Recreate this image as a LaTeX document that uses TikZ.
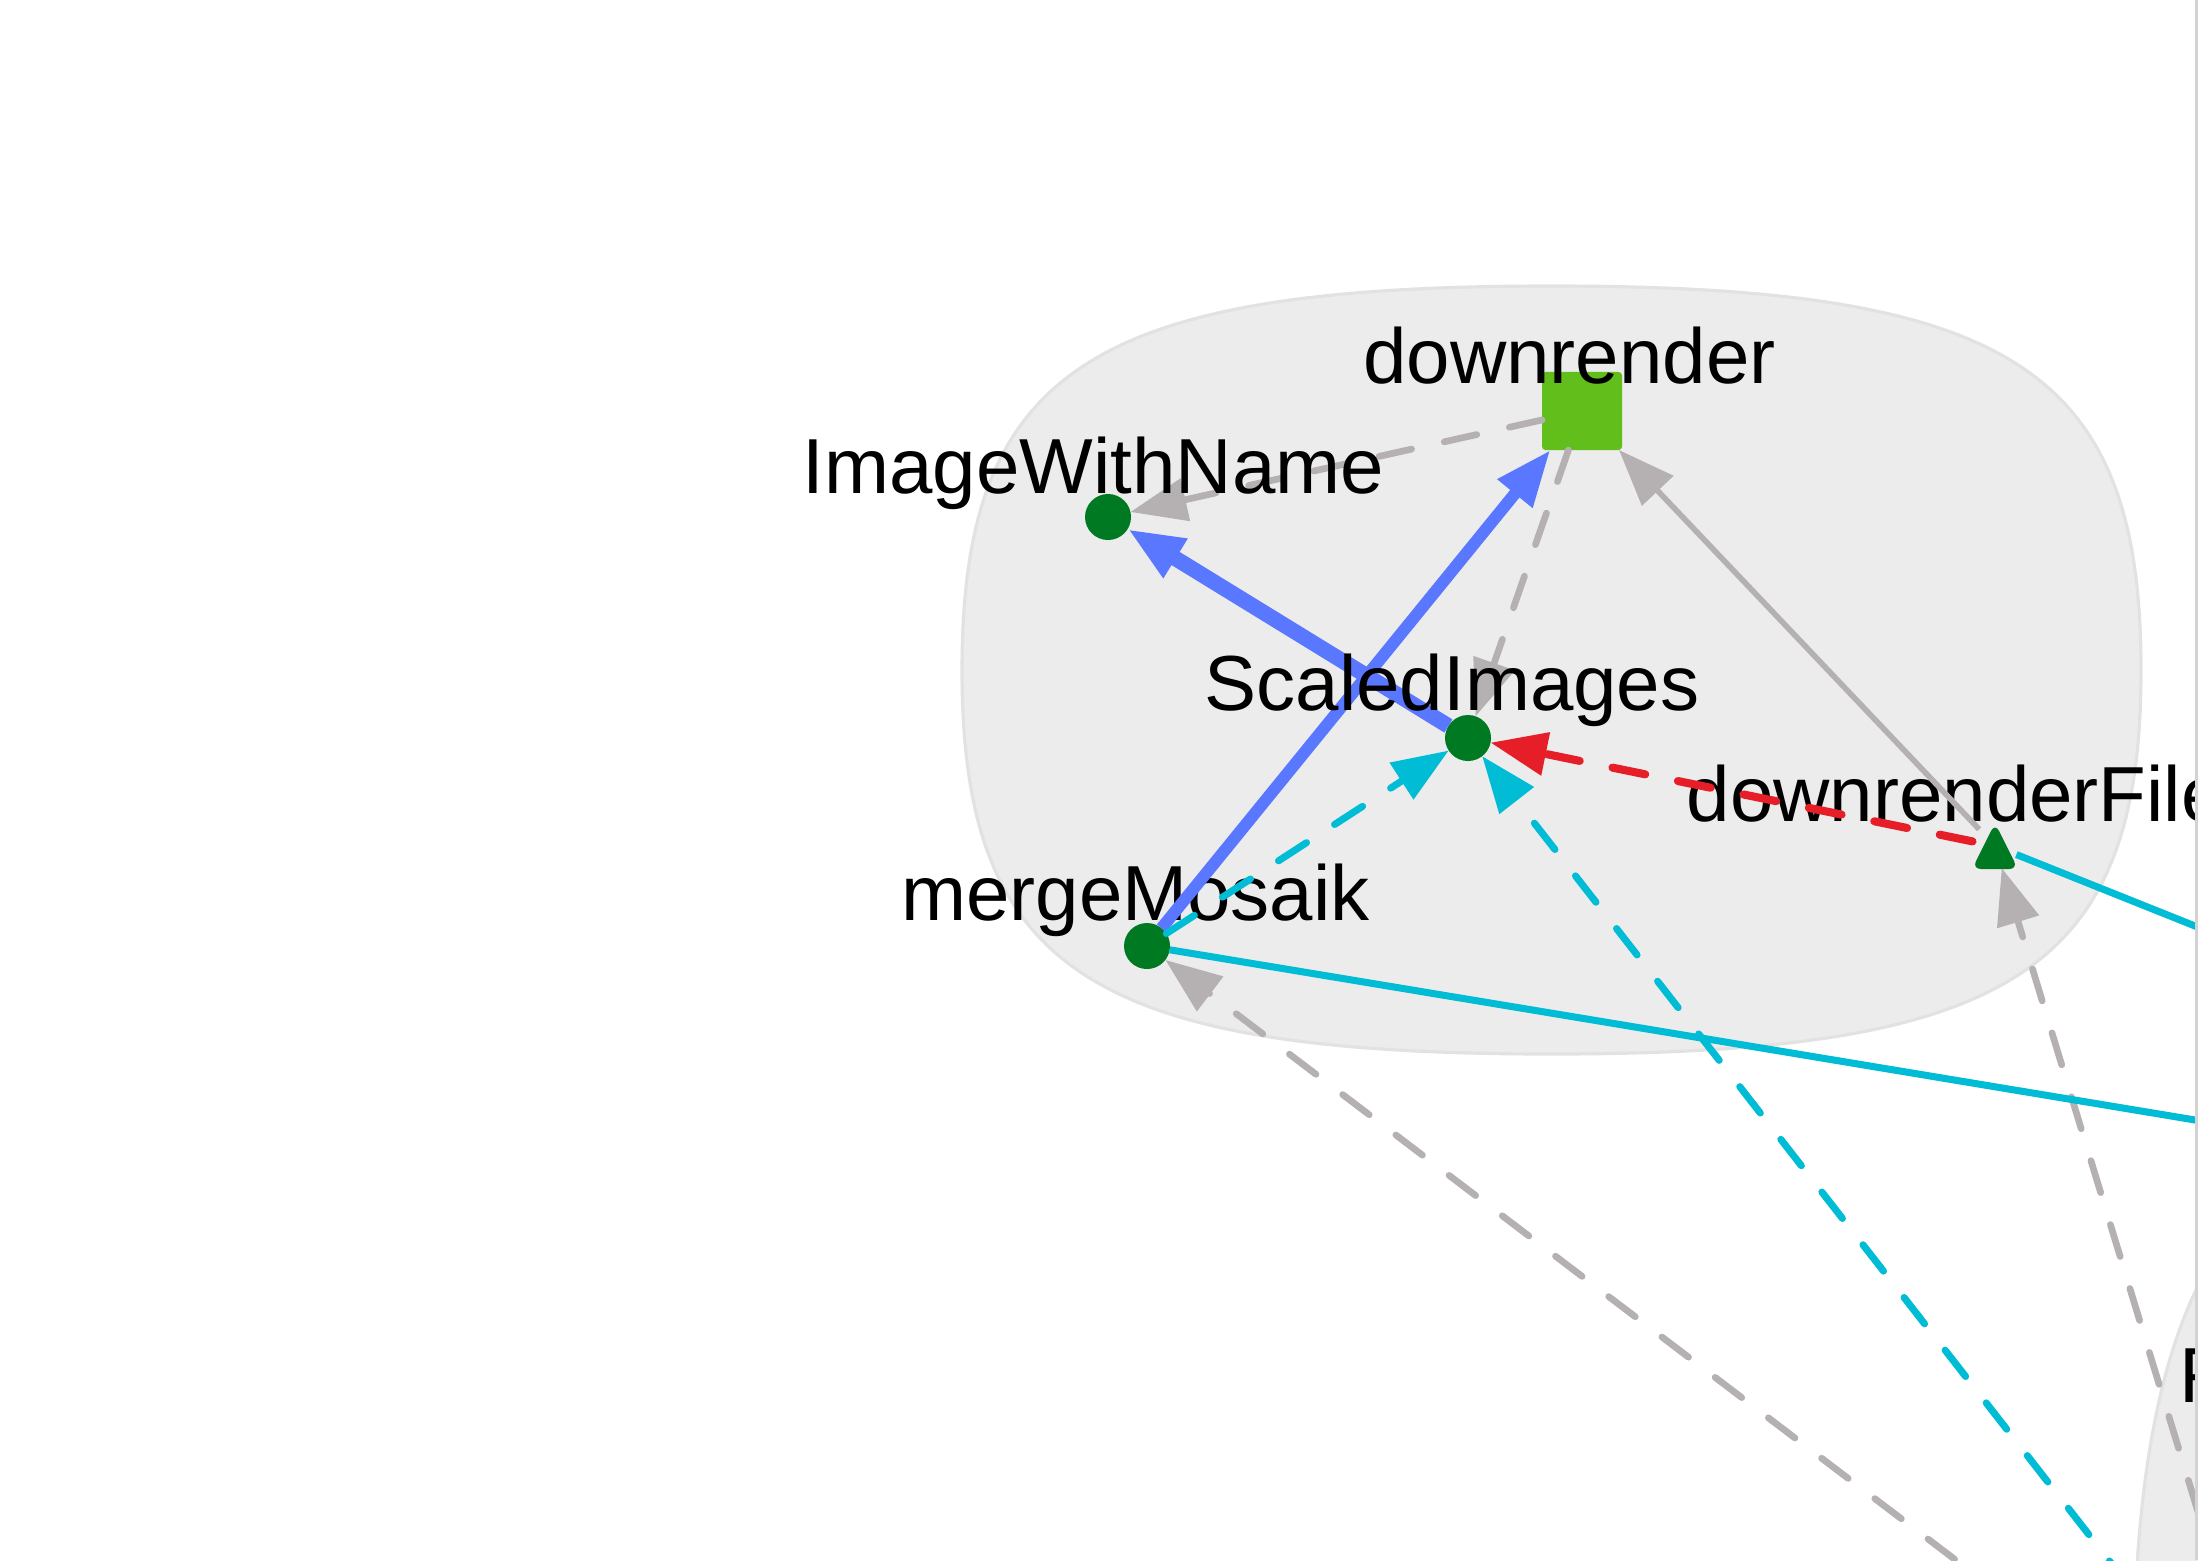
\documentclass[tikz,border=0pt]{standalone}
\usepackage{fontspec}
\setmainfont{Liberation Sans}
\usetikzlibrary{arrows.meta}
\definecolor{clfill}{HTML}{ECECEC}
\definecolor{clline}{HTML}{E2E2E2}
\definecolor{rimline}{HTML}{D2D2D2}
\definecolor{dkgreen}{HTML}{007A22}
\definecolor{ltgreen}{HTML}{62BE1A}
\definecolor{eblue}{HTML}{5A78FF}
\definecolor{ecyan}{HTML}{00BCD4}
\definecolor{ered}{HTML}{E61E28}
\definecolor{egrey}{HTML}{B5B0B2}
\begin{document}
\begin{tikzpicture}[x=0.01cm,y=-0.01cm,>={Triangle[length=16pt,width=12pt]},
  cluster/.style={fill=clfill,draw=clline,line width=0.9pt},
  dot/.style={circle,fill=dkgreen,inner sep=0pt,outer sep=0pt,minimum size=0.46cm},
  sqnode/.style={rectangle,rounded corners=1pt,fill=ltgreen,inner sep=0pt,outer sep=0pt,
    minimum width=0.8cm,minimum height=0.78cm},
  hole/.style={circle,inner sep=0pt,outer sep=0pt,minimum size=0.46cm},
  lbl/.style={font=\fontsize{22.2}{26}\selectfont,anchor=base,inner sep=0pt},
  dep/.style={line cap=round,dash pattern=on 9.5pt off 9.5pt},
  edgegrey/.style={draw=egrey,line width=1.9pt},
  edgeblue/.style={draw=eblue,line width=3.4pt},
  edgecyan/.style={draw=ecyan,line width=2pt},
  edgered/.style={draw=ered,line width=2.3pt}]
\path[use as bounding box,fill=white] (0,0) rectangle (2198,1560);
\path[cluster] (1551.5,286) .. controls (1091,286) and (962,370) .. (962,670)
  .. controls (962,970) and (1091,1054) .. (1551.5,1054)
  .. controls (2012,1054) and (2141,970) .. (2141,670)
  .. controls (2141,370) and (2012,286) .. cycle;
\path[cluster] (2733,1067) .. controls (2265,1067) and (2133,1206) .. (2133,1700)
  .. controls (2133,2194) and (2265,2333) .. (2733,2333)
  .. controls (3201,2333) and (3333,2194) .. (3333,1700)
  .. controls (3333,1206) and (3201,1067) .. cycle;

\node[sqnode] (dr) at (1582,411) {};
\node[dot] (iwn) at (1108,517) {};
\node[dot] (si) at (1468,738) {};
\node[dot] (mm) at (1147,946) {};
\node[hole] (drf) at (1995,846) {};
\coordinate (inA) at (2171,1640);
\coordinate (inB) at (2061,1640);
\coordinate (inC) at (2237,1640);
\coordinate (outD) at (2400,1154);
\coordinate (outE) at (2400,1008);

\node[lbl] (mmlbl) at (1135.5,920) {mergeMosaik};
\node[lbl,anchor=base west] (drflbl) at (1686,821) {downrenderFile};
\node[lbl,anchor=base west] (flbl) at (2179,1402) {F};

\draw[->,edgegrey,dep] (dr) -- (iwn);
\draw[->,edgeblue,line width=4.4pt] (si) -- (iwn);
\draw[->,edgeblue] (mm) -- (dr);
\draw[->,edgegrey,dep] (dr) -- (si);
\draw[->,edgegrey,line width=1.6pt] (drf) -- (dr);
\draw[->,edgered,dep] (drf) -- (si);
\draw[->,edgecyan,dep] (mm) -- (si);
\draw[->,edgecyan,dep] (inA) -- (si);
\draw[->,edgegrey,dep] (inB) -- (mm);
\draw[->,edgegrey,dep] (inC) -- (drf);
\draw[edgecyan] (mm) -- (outD);
\draw[edgecyan] (drf) -- (outE);

\fill[dkgreen,rounded corners=2.5pt] ([yshift=0.23cm]drf.center) -- ++(23,46) -- ++(-46,0) -- cycle;

\node[lbl] (iwnlbl) at (1093.5,493) {ImageWithName};
\node[lbl] (silbl) at (1452,710) {ScaledImages};
\node[lbl] (drlbl) at (1569.5,383) {downrender};
\draw[rimline,line width=0.6pt] (2196.5,0) -- (2196.5,1560);
\end{tikzpicture}
\end{document}
